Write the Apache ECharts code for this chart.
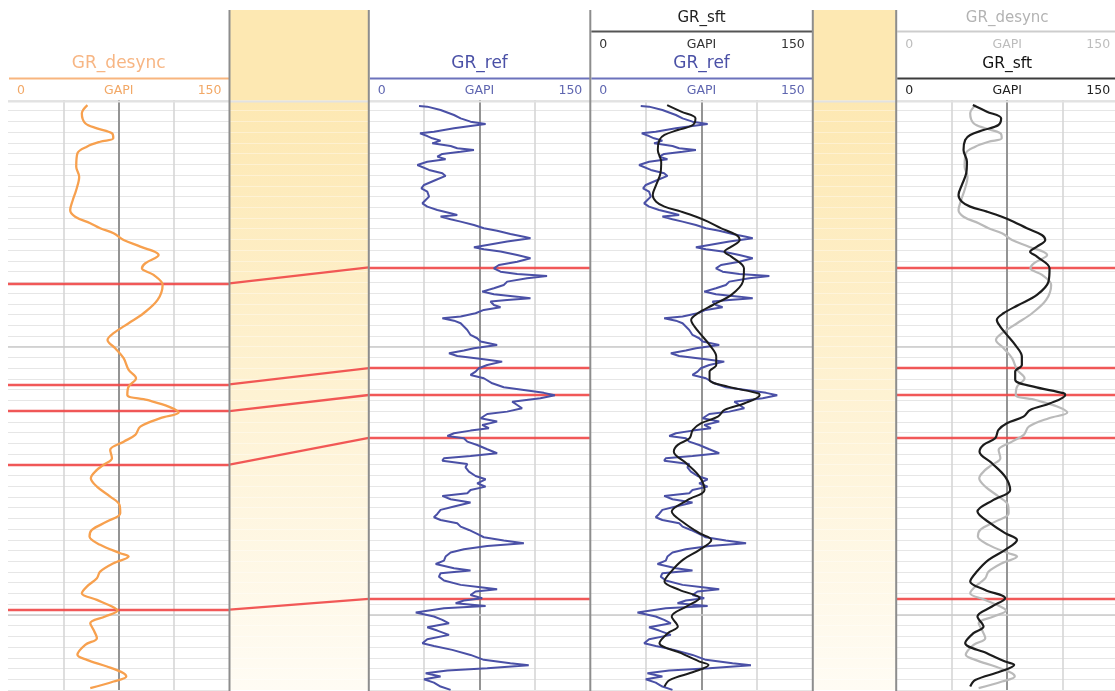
<!DOCTYPE html>
<html>
<head>
<meta charset="utf-8">
<script src="https://cdn.jsdelivr.net/npm/echarts@6/dist/echarts.min.js"></script>
<style>
html,body{margin:0;padding:0;background:#fff;}
#chart{width:1115px;height:691px;}
</style>
</head>
<body>
<div id="chart"></div>
<script>
// Depth window (m) and gamma-ray scale
const depthMin = 1227;
const depthMax = 1282;
const grMin = 0;
const grMax = 150;
const grUnit = 'GAPI';

// GR_desync : [depth, GR]
const grDesync = [
  [1227.47,53.8],[1228.24,50.0],[1229.17,52.3],[1229.64,60.2],[1230.10,70.4],[1230.57,71.3],
  [1230.89,62.4],[1231.35,53.4],[1231.97,47.0],[1233.22,46.2],[1234.15,48.2],[1235.39,46.2],
  [1236.32,43.9],[1237.26,42.1],[1237.88,45.5],[1238.49,55.7],[1238.96,62.4],[1239.42,71.5],
  [1240.05,78.3],[1240.67,89.6],[1241.45,102.0],[1242.22,93.0],[1242.69,90.7],[1243.31,98.6],
  [1244.24,104.7],[1245.64,101.3],[1246.88,91.8],[1247.81,81.7],[1248.74,71.5],[1249.37,67.4],
  [1250.14,72.6],[1251.07,78.3],[1252.16,81.7],[1252.94,86.7],[1253.72,81.7],[1254.49,80.8],
  [1254.96,94.1],[1255.58,108.8],[1256.14,115.6],[1256.66,103.2],[1257.45,89.6],[1258.22,86.2],
  [1258.85,78.3],[1259.62,69.2],[1260.39,70.4],[1261.02,64.7],[1261.48,60.2],[1262.26,56.1],
  [1263.04,60.2],[1263.97,69.2],[1264.74,75.5],[1265.52,76.0],[1266.30,67.0],[1267.07,56.8],
  [1267.70,55.2],[1268.47,62.4],[1269.25,76.0],[1269.56,81.7],[1270.18,71.5],[1270.96,62.4],
  [1271.58,60.2],[1272.36,53.4],[1272.97,50.0],[1273.60,60.2],[1274.22,70.4],[1274.60,74.2],
  [1275.15,65.8],[1275.77,55.7],[1276.39,57.9],[1277.17,60.2],[1277.79,52.3],[1278.72,47.0],
  [1279.19,53.4],[1279.81,67.0],[1280.43,78.3],[1280.75,80.1],[1281.21,71.5],[1281.83,55.7]
];

// GR_ref : [depth, GR]
const grRef = [
  [1227.56,34.0],[1227.62,39.6],[1227.93,48.6],[1228.40,57.7],[1228.71,62.2],[1229.02,68.9],
  [1229.24,79.1],[1229.42,68.9],[1229.64,57.7],[1229.95,44.1],[1230.11,34.7],[1230.36,39.6],
  [1230.57,43.0],[1230.79,48.6],[1231.04,43.0],[1231.29,55.4],[1231.50,59.9],[1231.66,71.2],
  [1231.82,62.2],[1232.03,49.8],[1232.28,46.4],[1232.53,52.0],[1232.75,39.6],[1233.06,32.9],
  [1233.21,31.8],[1233.52,40.8],[1233.83,49.8],[1234.08,52.0],[1234.46,45.3],[1234.92,37.4],
  [1235.23,35.6],[1235.54,39.6],[1236.01,40.8],[1236.32,38.5],[1236.63,36.3],[1236.94,39.6],
  [1237.25,46.4],[1237.56,55.4],[1237.72,59.9],[1237.87,48.6],[1238.12,55.4],[1238.34,62.2],
  [1238.65,71.2],[1238.96,77.9],[1239.18,86.9],[1239.49,95.9],[1239.74,105.0],[1239.89,109.5],
  [1240.20,93.7],[1240.51,80.2],[1240.73,71.2],[1240.92,77.9],[1241.13,89.2],[1241.45,100.5],
  [1241.76,109.5],[1242.07,100.5],[1242.38,88.1],[1242.69,84.7],[1243.00,89.2],[1243.22,100.5],
  [1243.40,120.7],[1243.62,107.2],[1243.93,93.7],[1244.24,91.4],[1244.55,84.7],[1244.86,76.8],
  [1245.11,84.7],[1245.33,100.5],[1245.48,109.5],[1245.64,93.7],[1245.79,82.4],[1246.11,84.7],
  [1246.32,89.2],[1246.57,77.9],[1246.88,72.3],[1247.19,62.2],[1247.35,49.8],[1247.57,57.7],
  [1247.81,62.2],[1248.12,64.4],[1248.44,66.7],[1248.90,68.9],[1249.21,73.4],[1249.52,75.7],
  [1249.83,86.9],[1250.14,71.2],[1250.36,64.4],[1250.61,54.3],[1250.86,59.9],[1251.17,77.9],
  [1251.39,90.3],[1251.70,80.2],[1252.01,74.5],[1252.32,72.3],[1252.63,68.9],[1252.94,77.9],
  [1253.41,83.6],[1253.78,91.4],[1254.03,105.0],[1254.30,118.5],[1254.52,126.0],[1254.81,116.2],
  [1255.12,97.1],[1255.43,100.5],[1255.74,103.8],[1256.05,93.7],[1256.27,80.2],[1256.67,75.7],
  [1256.98,86.9],[1257.29,76.8],[1257.60,81.3],[1257.82,68.9],[1258.07,57.7],[1258.32,53.2],
  [1258.53,64.4],[1258.85,66.7],[1259.16,73.4],[1259.56,80.2],[1259.93,86.9],[1260.18,68.9],
  [1260.40,50.9],[1260.62,49.8],[1260.93,66.7],[1261.24,65.5],[1261.64,67.8],[1262.05,72.3],
  [1262.36,79.1],[1262.73,73.4],[1263.04,79.1],[1263.35,68.9],[1263.66,66.7],[1263.91,49.8],
  [1264.22,55.4],[1264.53,68.9],[1264.90,57.7],[1265.21,48.6],[1265.59,46.4],[1265.90,44.1],
  [1266.15,48.6],[1266.46,59.9],[1266.77,62.2],[1267.08,67.8],[1267.45,73.4],[1267.76,77.9],
  [1268.07,91.4],[1268.32,105.0],[1268.57,80.2],[1268.88,64.4],[1269.19,55.4],[1269.56,52.0],
  [1269.94,50.9],[1270.25,45.3],[1270.65,57.7],[1270.87,68.9],[1271.12,48.6],[1271.43,47.5],
  [1271.80,50.9],[1272.20,62.2],[1272.42,75.7],[1272.61,86.9],[1272.82,72.3],[1273.14,68.9],
  [1273.45,76.8],[1273.66,64.4],[1273.91,58.8],[1274.16,79.1],[1274.38,50.9],[1274.78,31.8],
  [1275.15,44.1],[1275.46,49.8],[1275.78,54.3],[1276.15,39.6],[1276.46,46.4],[1276.86,54.3],
  [1277.27,39.6],[1277.64,36.3],[1277.89,44.1],[1278.26,56.5],[1278.73,68.9],[1279.19,77.9],
  [1279.50,95.9],[1279.69,108.3],[1279.97,80.2],[1280.19,53.2],[1280.44,38.5],[1280.75,48.6],
  [1281.00,37.4],[1281.31,44.1],[1281.68,48.6],[1281.99,55.4]
];

// GR_sft : [depth, GR]
const grSft = [
  [1227.47,51.8],[1228.09,61.3],[1228.71,70.9],[1229.33,69.1],[1229.80,59.0],[1230.26,50.0],
  [1230.73,46.6],[1231.66,45.5],[1232.75,47.8],[1233.83,47.3],[1234.92,44.4],[1235.85,42.1],
  [1236.48,44.4],[1236.94,50.0],[1237.41,61.3],[1237.88,71.4],[1238.34,79.3],[1238.96,88.3],
  [1239.58,98.4],[1240.05,100.7],[1240.67,95.1],[1241.14,90.5],[1241.60,95.1],[1242.69,103.6],
  [1243.93,102.9],[1245.17,95.1],[1246.11,82.6],[1246.88,72.5],[1247.50,68.0],[1248.13,70.3],
  [1248.90,74.8],[1249.83,80.4],[1250.92,84.9],[1251.70,84.9],[1252.32,80.4],[1253.09,80.4],
  [1253.72,92.8],[1254.33,113.0],[1254.49,114.2],[1255.27,104.1],[1255.89,90.5],[1256.52,86.0],
  [1257.13,74.8],[1257.75,69.1],[1258.53,66.9],[1259.15,59.0],[1259.78,56.3],[1260.86,64.7],
  [1262.11,73.6],[1263.35,77.0],[1264.28,65.7],[1265.37,54.9],[1266.45,63.5],[1267.38,73.6],
  [1268.01,81.6],[1268.94,73.6],[1269.87,62.4],[1270.96,54.5],[1271.89,50.0],[1272.67,60.1],
  [1273.44,73.6],[1274.22,64.7],[1275.15,54.9],[1276.09,59.0],[1276.70,52.2],[1277.63,46.6],
  [1278.57,61.3],[1279.35,73.6],[1279.66,79.7],[1280.28,70.3],[1281.07,53.4],[1281.68,50.0]
];

// Correlated tops: depth on GR_desync and the matching depth on GR_ref
const topsDesync = [1244.1, 1253.5, 1256.0, 1261.0, 1274.5];
const topsRef    = [1242.6, 1252.0, 1254.5, 1258.5, 1273.5];

// Heavy depth lines
const majorDepths = [1250, 1275];

// Column layout: log tracks and correlation bands
const COLS = [
  { left: 8,     width: 221.5, band: false },
  { left: 229.5, width: 139.3, band: true  },
  { left: 368.8, width: 221.5, band: false },
  { left: 590.3, width: 222.5, band: false },
  { left: 812.8, width: 83.4,  band: true  },
  { left: 896.2, width: 222,   band: false }
];
const GRID_TOP = 100;
const GRID_H = 590;

const C = {
  orange: '#F7A04E',
  orangeText: '#F7B684',
  orangeScale: '#F2A866',
  blue: '#4A50A6',
  blueLine: '#6C72BC',
  blueScale: '#5F66B0',
  black: '#1c1c1c',
  grey: '#bababa',
  red: '#EF4646',
  border: '#8d8d8d',
  minor: '#e6e6e6',
  quarter: '#d6d6d6',
  center: '#8c8c8c',
  major: '#cacaca',
  bandTop: '#FDE8B2',
  bandBottom: '#FFFCF4'
};

const chart = echarts.init(document.getElementById('chart'), null, { renderer: 'canvas' });

const grids = COLS.map(c => ({
  left: c.left, width: c.width, top: GRID_TOP, height: GRID_H,
  show: c.band,
  borderWidth: 0,
  backgroundColor: c.band ? {
    type: 'linear', x: 0, y: 0, x2: 0, y2: 1,
    colorStops: [{ offset: 0, color: C.bandTop }, { offset: 1, color: C.bandBottom }]
  } : 'transparent',
  containLabel: false,
  outerBoundsMode: 'none'
}));

const xAxes = COLS.map((c, i) => c.band ? {
  gridIndex: i, type: 'value', min: 0, max: 1,
  axisLine: { show: false }, axisTick: { show: false }, axisLabel: { show: false },
  splitLine: { show: false }
} : {
  gridIndex: i, type: 'value', min: grMin, max: grMax, interval: 37.5,
  axisLine: { show: false }, axisTick: { show: false }, axisLabel: { show: false },
  splitLine: { show: true, showMinLine: false, showMaxLine: false,
               lineStyle: { color: C.quarter, width: 1.6 } }
});

const yAxes = COLS.map((c, i) => ({
  gridIndex: i, type: 'value', inverse: true, min: depthMin, max: depthMax, interval: 1,
  axisLine: { show: false }, axisTick: { show: false }, axisLabel: { show: false },
  splitLine: { show: true,
               lineStyle: { color: c.band ? 'rgba(255,255,255,0.35)' : C.minor, width: 1 } }
}));

const asXY = arr => arr.map(p => [p[1], p[0]]);

// Reference lines of a track: centre line, heavy depth lines, optional tops
function trackLines(tops) {
  const data = [{ xAxis: 75, lineStyle: { color: C.center, width: 1.8, type: 'solid' } }];
  majorDepths.forEach(d => data.push({ yAxis: d, lineStyle: { color: C.major, width: 1.6, type: 'solid' } }));
  (tops || []).forEach(d => data.push({ yAxis: d, lineStyle: { color: C.red, width: 2.3, type: 'solid', opacity: 0.9 } }));
  return {
    silent: true, symbol: 'none', z: 1, animation: false,
    label: { show: false }, emphasis: { disabled: true },
    data
  };
}

function curve(name, gi, data, color, width, smooth, z, tops) {
  const s = {
    name, type: 'line', xAxisIndex: gi, yAxisIndex: gi,
    data: asXY(data), symbol: 'none', showSymbol: false,
    smooth: smooth, z: z,
    lineStyle: { color, width },
    emphasis: { disabled: true }, silent: true, animation: false
  };
  if (tops !== undefined) s.markLine = trackLines(tops);
  return s;
}

const series = [
  curve('GR_desync', 0, grDesync, C.orange, 2.3, 0.35, 3, topsDesync),
  curve('GR_ref', 2, grRef, C.blue, 2, false, 3, topsRef),
  curve('GR_ref', 3, grRef, C.blue, 2, false, 3, []),
  curve('GR_sft', 3, grSft, C.black, 2, 0.35, 4),
  curve('GR_desync', 5, grDesync, C.grey, 2.2, 0.35, 3, topsRef),
  curve('GR_sft', 5, grSft, C.black, 2.2, 0.35, 4)
];

// Correlation links across the first band
topsDesync.forEach((d, i) => {
  series.push({
    type: 'line', xAxisIndex: 1, yAxisIndex: 1,
    data: [[0, d], [1, topsRef[i]]],
    symbol: 'none', showSymbol: false, silent: true, animation: false, z: 3,
    lineStyle: { color: C.red, width: 2.3, opacity: 0.9 }
  });
});

// Header layout
const FONT = '"DejaVu Sans", "Liberation Sans", sans-serif';
function txt(x, y, text, size, color, align) {
  return {
    type: 'text', x, y, z: 20, silent: true,
    style: {
      text, fill: color, font: size + 'px ' + FONT,
      align: align || 'center', verticalAlign: 'middle',
      textAlign: align || 'center', textVerticalAlign: 'middle'
    }
  };
}
function hline(x1, x2, y, color, w) {
  return { type: 'line', z: 20, silent: true, shape: { x1, y1: y, x2, y2: y }, style: { stroke: color, lineWidth: w } };
}
function vline(x, y1, y2, color, w) {
  return { type: 'line', z: 20, silent: true, shape: { x1: x, y1, x2: x, y2 }, style: { stroke: color, lineWidth: w } };
}
function scaleRow(col, y, color) {
  const l = col.left, r = col.left + col.width;
  return [
    txt(l + 9, y, String(grMin), 12.5, color, 'left'),
    txt(l + col.width / 2, y, grUnit, 12.5, color, 'center'),
    txt(r - 8, y, String(grMax), 12.5, color, 'right')
  ];
}
function header(col, titleY, lineY, scaleY, title, titleSize, titleColor, lineColor, lineW, scaleColor) {
  return [
    txt(col.left + col.width / 2, titleY, title, titleSize, titleColor, 'center'),
    hline(col.left + 1, col.left + col.width, lineY, lineColor, lineW),
    ...scaleRow(col, scaleY, scaleColor)
  ];
}

const T1 = COLS[0], B1 = COLS[1], T2 = COLS[2], T3 = COLS[3], B2 = COLS[4], T4 = COLS[5];

const elements = [
  // header fill of the correlation bands
  { type: 'rect', z: 5, silent: true, shape: { x: B1.left, y: 10, width: B1.width, height: 90 }, style: { fill: C.bandTop } },
  { type: 'rect', z: 5, silent: true, shape: { x: B2.left, y: 10, width: B2.width, height: 90 }, style: { fill: C.bandTop } },
  // separator between header and depth area
  hline(8, 1115, 101.5, '#e2e2e2', 2),
  // track 1
  ...header(T1, 64, 78.5, 91, 'GR_desync', 17, C.orangeText, '#F8B57E', 2, C.orangeScale),
  // track 2
  ...header(T2, 64, 78.5, 91, 'GR_ref', 17, C.blue, C.blueLine, 2, C.blueScale),
  // track 3
  ...header(T3, 18.5, 31.5, 44.5, 'GR_sft', 15, '#1e1e1e', '#555555', 2, '#333333'),
  ...header(T3, 64, 78.5, 91, 'GR_ref', 17, C.blue, C.blueLine, 2, C.blueScale),
  // track 4
  ...header(T4, 18.5, 31.5, 44.5, 'GR_desync', 15, '#b3b3b3', '#cdcdcd', 2, '#bdbdbd'),
  ...header(T4, 64, 78.5, 91, 'GR_sft', 15.5, '#111111', '#3c3c3c', 2, '#222222'),
  // column borders
  vline(B1.left, 10, 691, C.border, 2),
  vline(T2.left, 10, 691, C.border, 2),
  vline(T3.left, 10, 691, C.border, 2),
  vline(B2.left, 10, 691, C.border, 2),
  vline(T4.left, 10, 691, C.border, 2)
];

chart.setOption({
  animation: false,
  backgroundColor: '#ffffff',
  grid: grids,
  xAxis: xAxes,
  yAxis: yAxes,
  series,
  graphic: { elements }
});
</script>
</body>
</html>
